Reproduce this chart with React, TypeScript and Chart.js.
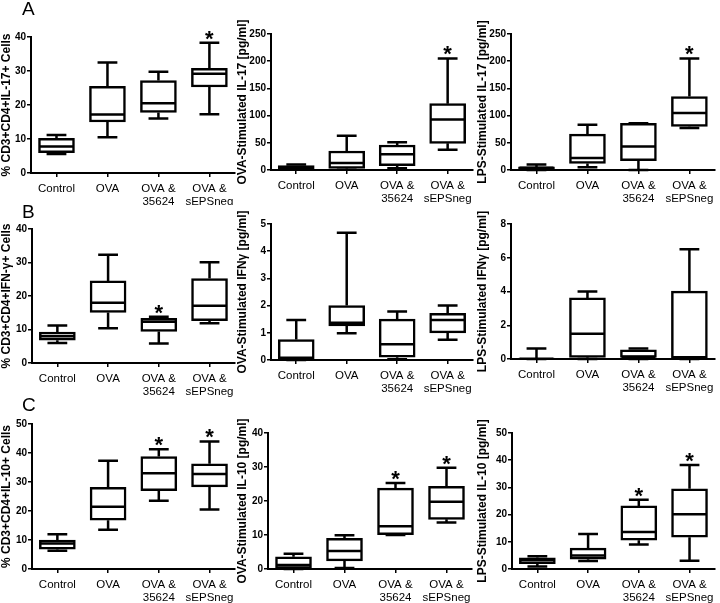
import React, { useEffect, useRef } from "react";
import { Chart, registerables } from "chart.js";
Chart.register(...registerables);

type Stat = [number, number, number, number, number]; // min, q1, median, q3, max

const FONT = "'Liberation Sans', Arial, Helvetica, sans-serif";

const categoryLabels = [["Control"], ["OVA"], ["OVA &", "35624"], ["OVA &", "sEPSneg"]];

// Row A – IL-17
const il17CellStats: Stat[] = [
  [5.6, 6.0, 7.8, 10.2, 11.2],
  [10.5, 15.0, 17.2, 25.5, 32.5],
  [16.0, 17.8, 20.5, 27.2, 29.8],
  [17.3, 25.3, 29.2, 30.8, 38.3],
];
const il17CellStars = [false, false, false, true];

const ovaIl17Stats: Stat[] = [
  [1, 2, 5, 8, 10],
  [0.5, 3, 13, 35, 63],
  [3, 8, 29, 46, 51],
  [37, 49, 93, 122, 205],
];
const ovaIl17Stars = [false, false, false, true];

const lpsIl17Stats: Stat[] = [
  [0, 2, 4, 6, 10],
  [5, 12, 22, 66, 83],
  [0, 17, 43, 86, 86],
  [77, 80, 105, 135, 205],
];
const lpsIl17Stars = [false, false, false, true];

// Row B – IFN-gamma
const ifnCellStats: Stat[] = [
  [6, 6.8, 8, 9.2, 11.2],
  [10.4, 15.1, 18, 24.5, 32.3],
  [5.8, 9.4, 12.3, 13.3, 13.8],
  [11.9, 12.6, 17.1, 25.2, 30.1],
];
const ifnCellStars = [false, false, true, false];

const ovaIfnStats: Stat[] = [
  [0, 0.03, 0.08, 0.75, 1.47],
  [0.98, 1.25, 1.37, 2.0, 4.68],
  [0.03, 0.1, 0.58, 1.5, 1.78],
  [0.74, 1.0, 1.47, 1.72, 2.0],
];
const ovaIfnStars = [false, false, false, false];

const lpsIfnStats: Stat[] = [
  [0, 0, 0.02, 0.05, 0.62],
  [0, 0.1, 1.5, 3.62, 4.0],
  [0, 0.1, 0.12, 0.55, 0.62],
  [0, 0.05, 0.1, 4.02, 6.5],
];
const lpsIfnStars = [false, false, false, false];

// Row C – IL-10
const il10CellStats: Stat[] = [
  [6.3, 6.8, 8.8, 10, 12],
  [13.5, 16.8, 21.5, 28.2, 37.3],
  [23.5, 27, 33, 38.8, 41.3],
  [20.5, 28.3, 32.8, 36.3, 44],
];
const il10CellStars = [false, false, true, true];

const ovaIl10Stats: Stat[] = [
  [0, 0.2, 1.2, 3.6, 4.5],
  [0.3, 2.4, 5.3, 9, 9.9],
  [10, 10.1, 12.6, 23.8, 25.3],
  [13.7, 14.6, 19.8, 24.3, 29.8],
];
const ovaIl10Stars = [false, false, true, true];

const lpsIl10Stats: Stat[] = [
  [0.9, 2, 3.3, 4.1, 4.7],
  [2.9, 3.6, 5, 7.7, 12.9],
  [9, 10.6, 13.6, 23.2, 25.5],
  [3, 11.7, 20.1, 29.5, 38.2],
];
const lpsIl10Stars = [false, false, true, true];

const yTitles = [
  "% CD3+CD4+IL-17+ Cells",
  "OVA-Stimulated IL-17 [pg/ml]",
  "LPS-Stimulated IL-17 [pg/ml]",
  "% CD3+CD4+IFN-\u03b3+ Cells",
  "OVA-Stimulated IFN\u03b3 [pg/ml]",
  "LPS-Stimulated IFN\u03b3 [pg/ml]",
  "% CD3+CD4+IL-10+ Cells",
  "OVA-Stimulated IL-10 [pg/ml]",
  "LPS-Stimulated IL-10 [pg/ml]",
];
const yMaxes = [40, 250, 250, 40, 5, 8, 50, 40, 50];
const ySteps = [10, 50, 50, 10, 1, 2, 10, 10, 10];

type Geom = { cx: number; cy: number; w: number; h: number; L: number; T: number; R: number; B: number };
type PanelCfg = { stats: Stat[]; stars: boolean[]; title: string; max: number; step: number; g: Geom };

const geoms: Geom[] = [
  { cx: 0, cy: 0, w: 240, h: 205, L: 31, T: 37, R: 235, B: 173 },
  { cx: 236, cy: 0, w: 242, h: 205, L: 271, T: 34, R: 475, B: 170 },
  { cx: 476, cy: 0, w: 244, h: 205, L: 511, T: 34, R: 715, B: 170 },
  { cx: 0, cy: 200, w: 240, h: 200, L: 32, T: 229, R: 236, B: 363 },
  { cx: 236, cy: 200, w: 242, h: 200, L: 271, T: 224, R: 475, B: 360 },
  { cx: 476, cy: 200, w: 244, h: 200, L: 511, T: 224, R: 715, B: 359 },
  { cx: 0, cy: 400, w: 240, h: 203, L: 32, T: 424, R: 236, B: 569 },
  { cx: 236, cy: 400, w: 242, h: 203, L: 268, T: 433, R: 472, B: 569 },
  { cx: 476, cy: 400, w: 244, h: 203, L: 512, T: 433, R: 716, B: 569 },
];

const allStats = [il17CellStats, ovaIl17Stats, lpsIl17Stats, ifnCellStats, ovaIfnStats, lpsIfnStats, il10CellStats, ovaIl10Stats, lpsIl10Stats];
const allStars = [il17CellStars, ovaIl17Stars, lpsIl17Stars, ifnCellStars, ovaIfnStars, lpsIfnStars, il10CellStars, ovaIl10Stars, lpsIl10Stars];

const panels: PanelCfg[] = allStats.map((stats, i) => ({
  stats,
  stars: allStars[i],
  title: yTitles[i],
  max: yMaxes[i],
  step: ySteps[i],
  g: geoms[i],
}));

function BoxPanel({ p }: { p: PanelCfg }) {
  const ref = useRef<HTMLCanvasElement>(null);
  useEffect(() => {
    const canvas = ref.current!;
    const { cx, cy, w, h, L, T, R, B } = p.g;
    const whiskerPlugin = {
      id: "whiskers",
      afterDatasetsDraw(chart: any) {
        const ctx = chart.ctx as CanvasRenderingContext2D;
        const meta = chart.getDatasetMeta(0);
        const ys = chart.scales.y;
        ctx.save();
        ctx.strokeStyle = "#000";
        ctx.fillStyle = "#000";
        ctx.lineWidth = 2.5;
        p.stats.forEach((s, i) => {
          const bar = meta.data[i] as any;
          const x = bar.x;
          const half = bar.width / 2;
          const capHalf = half * 0.55;
          const yMin = ys.getPixelForValue(s[0]);
          const yQ1 = ys.getPixelForValue(s[1]);
          const yMed = ys.getPixelForValue(s[2]);
          const yQ3 = ys.getPixelForValue(s[3]);
          const yMax = ys.getPixelForValue(s[4]);
          ctx.beginPath();
          ctx.moveTo(x, yQ3);
          ctx.lineTo(x, yMax);
          ctx.moveTo(x - capHalf, yMax);
          ctx.lineTo(x + capHalf, yMax);
          ctx.moveTo(x, yQ1);
          ctx.lineTo(x, yMin);
          ctx.moveTo(x - capHalf, yMin);
          ctx.lineTo(x + capHalf, yMin);
          ctx.moveTo(x - half + 1, yMed);
          ctx.lineTo(x + half - 1, yMed);
          ctx.stroke();
          if (p.stars[i]) {
            ctx.font = `bold 22px ${FONT}`;
            ctx.textAlign = "center";
            ctx.textBaseline = "alphabetic";
            ctx.fillText("*", x, yMax + 3);
          }
        });
        ctx.restore();
      },
    };
    const chart = new Chart(canvas, {
      type: "bar",
      data: {
        labels: categoryLabels as any,
        datasets: [
          {
            data: p.stats.map((s) => [s[1], s[3]]) as any,
            backgroundColor: "#ffffff",
            borderColor: "#000000",
            borderWidth: 2.5,
            borderSkipped: false,
            barThickness: 36,
          },
        ],
      },
      options: {
        responsive: false,
        animation: false,
        events: [],
        layout: { padding: { left: 0, top: T - cy, right: cx + w - R, bottom: 0 } },
        plugins: { legend: { display: false }, tooltip: { enabled: false } },
        scales: {
          x: {
            type: "category",
            offset: true,
            grid: { display: true, drawOnChartArea: false, drawTicks: true, tickLength: 4, offset: false, color: "#000", lineWidth: 1.5 },
            border: { display: true, color: "#000", width: 2 },
            ticks: { color: "#000", font: { family: FONT, size: 11.5, lineHeight: 1.1 }, padding: 6, maxRotation: 0, autoSkip: false },
            afterFit: (s: any) => {
              s.height = cy + h - B;
            },
          },
          y: {
            min: 0,
            max: p.max,
            ticks: { stepSize: p.step, color: "#000", font: { family: FONT, size: 10, weight: "bold" }, padding: 1 },
            grid: { drawOnChartArea: false, tickLength: 4, color: "#000", lineWidth: 1.5 },
            border: { color: "#000", width: 2 },
            title: { display: true, text: p.title, color: "#000", font: { family: FONT, size: 12, weight: "bold", lineHeight: 1.1 }, padding: 0 },
            afterFit: (s: any) => {
              s.width = L - cx;
            },
          },
        },
      } as any,
      plugins: [whiskerPlugin],
    });
    return () => chart.destroy();
  }, [p]);
  return (
    <canvas
      ref={ref}
      width={p.g.w}
      height={p.g.h}
      style={{ position: "absolute", left: p.g.cx, top: p.g.cy, width: p.g.w, height: p.g.h }}
    />
  );
}

const letterStyle = (top: number): React.CSSProperties => ({
  position: "absolute",
  left: 22,
  top,
  fontFamily: FONT,
  fontSize: 19,
  lineHeight: "19px",
  color: "#000",
});

export default function App() {
  return (
    <div style={{ position: "absolute", left: 0, top: 0, width: 720, height: 603, background: "#fff", overflow: "hidden" }}>
      {panels.map((p, i) => (
        <BoxPanel key={i} p={p} />
      ))}
      <div style={letterStyle(-1)}>A</div>
      <div style={letterStyle(202)}>B</div>
      <div style={letterStyle(395)}>C</div>
    </div>
  );
}
